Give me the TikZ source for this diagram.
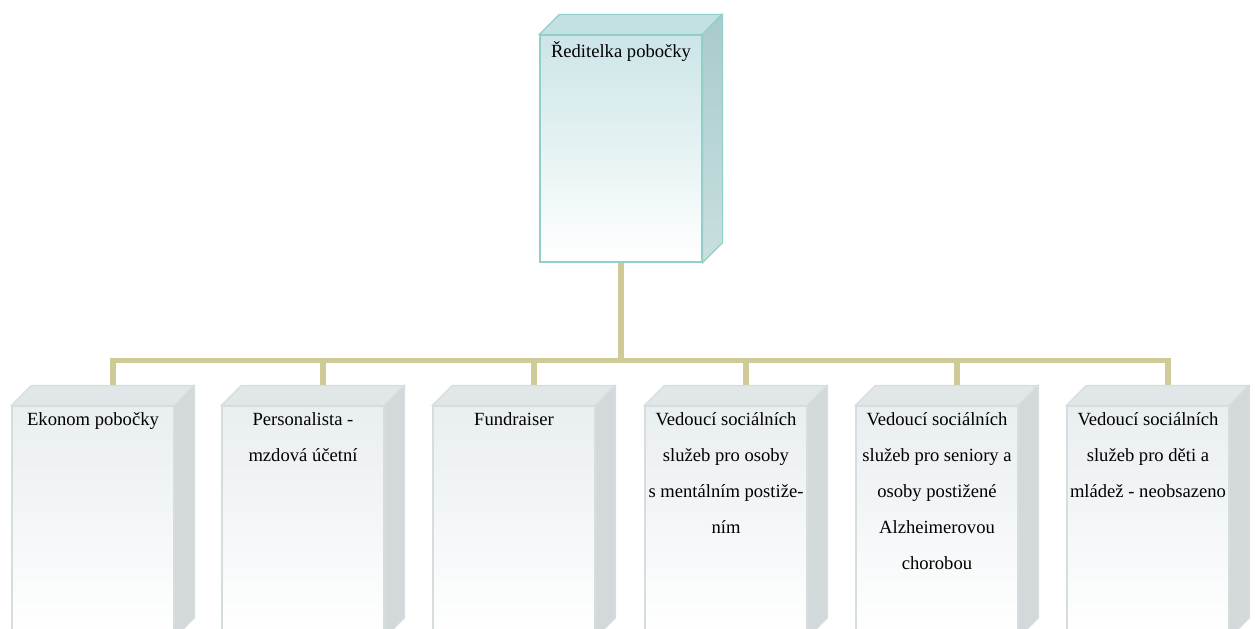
\documentclass[tikz,border=0pt]{standalone}
\usepackage{fontspec}
\setmainfont{Liberation Serif}
\usetikzlibrary{calc, positioning}
\definecolor{headline}{HTML}{93CFC9}
\definecolor{headfront}{HTML}{CCE5E7}
\definecolor{headtop}{HTML}{C3E1E1}
\definecolor{headside}{HTML}{A9CBCB}
\definecolor{headsidelow}{HTML}{C8DFDF}
\definecolor{boxline}{HTML}{D6DDDF}
\definecolor{boxfront}{HTML}{E9EEF0}
\definecolor{boxtop}{HTML}{E1E7E9}
\definecolor{boxside}{HTML}{D3D9DB}
\definecolor{linkcol}{HTML}{CFCB97}
\tikzset{
  frontface/.style={draw=boxline, line width=0.6pt, rectangle, inner sep=0pt, minimum width=81pt, minimum height=115.5pt, top color=boxfront, bottom color=white},
  headface/.style={frontface, draw=headline, minimum height=113.5pt, top color=headfront},
  boxtext/.style={align=center, inner sep=0pt, anchor=north},
  link/.style={draw=linkcol, line width=2.8pt}
}
\begin{document}
\begin{tikzpicture}[x=0.5pt, y=0.5pt, font={\fontsize{9.3}{18}\selectfont}]
  \useasboundingbox (0,0) rectangle (1255,628);

  % front faces
  \node[headface] (reditel) at (621,479.5) {};
  \node[frontface] (ekonom) at (93,106.5) {};
  \node[frontface] (personal) at (303,106.5) {};
  \node[frontface] (fundr) at (514,106.5) {};
  \node[frontface] (mental) at (726,106.5) {};
  \node[frontface] (senior) at (937,106.5) {};
  \node[frontface] (deti) at (1148,106.5) {};

  % connectors
  \coordinate (bus) at ($(reditel.south)+(0,-98)$);
  \foreach \n in {ekonom, personal, fundr, mental, senior, deti}
    \draw[link] (reditel.south) -- (bus) -| ($(\n.north)+(20,20)$);

  % depth faces
  \filldraw[draw=headline, line width=0.6pt, fill=headtop] (reditel.north west) -- ++(20,20) -- ++(162,0) -- (reditel.north east) -- cycle;
  \path[draw=headline, line width=0.6pt, top color=headside, bottom color=headsidelow] (reditel.north east) -- ++(20,20) -- ($(reditel.south east)+(20,20)$) -- (reditel.south east) -- cycle;
  \foreach \n in {ekonom, personal, fundr, mental, senior, deti} {
    \filldraw[draw=boxline, line width=0.6pt, fill=boxtop] (\n.north west) -- ++(20,20) -- ++(162,0) -- (\n.north east) -- cycle;
    \filldraw[draw=boxline, line width=0.6pt, fill=boxside] (\n.north east) -- ++(20,20) -- ($(\n.south east)+(20,20)$) -- (\n.south east) -- cycle;
  }

  % texts
  \node[boxtext, below=3.2pt of reditel.north] (reditelt) {Ředitelka pobočky};
  \node[boxtext, below=3.2pt of ekonom.north] (ekonomt) {Ekonom pobočky};
  \node[boxtext, below=3.2pt of personal.north] (personalt) {Personalista -\\mzdová účetní};
  \node[boxtext, below=3.2pt of fundr.north] (fundrt) {Fundraiser};
  \node[boxtext, below=3.2pt of mental.north] (mentalt) {Vedoucí sociálních\\služeb pro osoby\\s mentálním postiže-\\ním};
  \node[boxtext, below=3.2pt of senior.north] (seniort) {Vedoucí sociálních\\služeb pro seniory a\\osoby postižené\\Alzheimerovou\\chorobou};
  \node[boxtext, below=3.2pt of deti.north] (detit) {Vedoucí sociálních\\služeb pro děti a\\mládež - neobsazeno};
\end{tikzpicture}
\end{document}
